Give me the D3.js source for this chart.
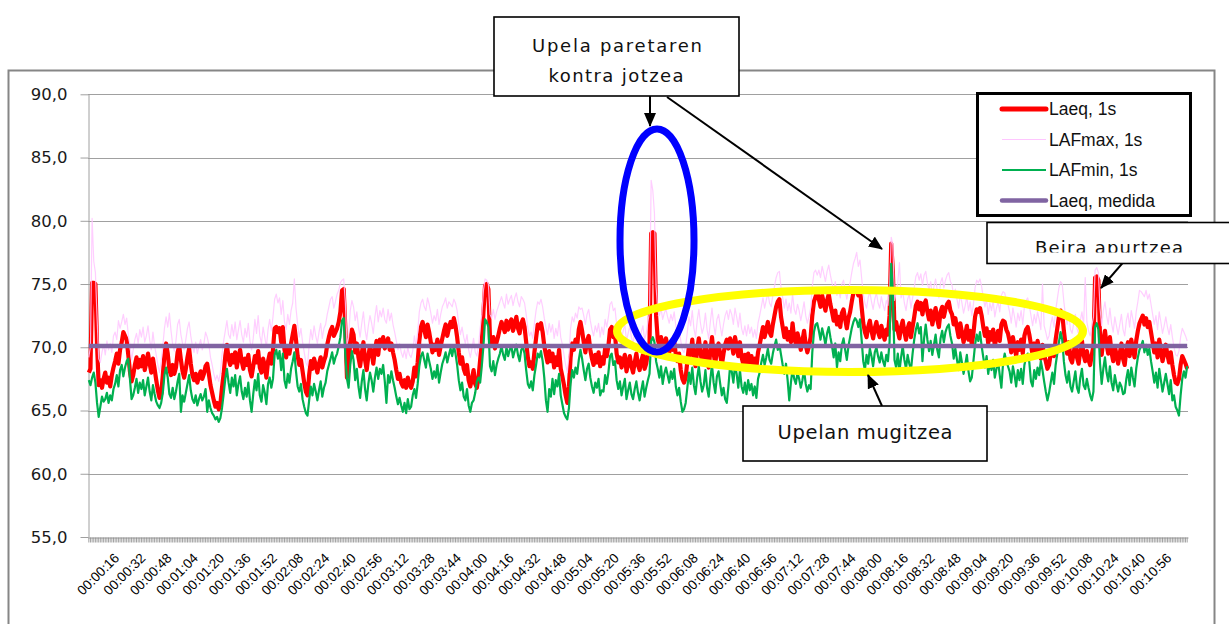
<!DOCTYPE html>
<html>
<head>
<meta charset="utf-8">
<script src="https://cdn.jsdelivr.net/npm/d3@7/dist/d3.min.js"></script>
<style>
  body { margin: 0; background: #fff; }
  svg { display: block; }
</style>
</head>
<body>
<div id="chart"></div>
<script>
// one value per second, starting at 00:00:00
const laeq = [
  68.0, 68.3, 75.1, 75.1, 75.0, 70.2, 67.0, 67.4, 66.8, 67.5, 68.0, 67.2, 67.6, 66.9, 67.8, 68.4,
  68.9, 69.5, 68.7, 69.8, 70.4, 71.2, 70.9, 70.6, 69.4, 68.1, 67.3, 67.8, 68.6, 69.2, 68.4, 69.0,
  68.5, 69.3, 68.2, 68.8, 69.5, 68.7, 68.0, 69.1, 68.3, 67.4, 66.6, 66.0, 66.3, 67.8, 69.4, 70.3,
  69.5, 68.2, 67.8, 68.6, 67.9, 68.4, 69.6, 70.1, 69.0, 68.1, 67.6, 68.3, 69.2, 69.9, 68.7, 67.8,
  67.4, 67.9, 67.2, 67.7, 68.1, 67.5, 67.9, 68.5, 68.7, 67.9, 67.0, 66.4, 65.8, 65.3, 65.6, 65.1,
  65.5, 66.8, 67.9, 69.3, 70.2, 69.1, 68.6, 69.4, 68.8, 69.6, 68.4, 69.2, 69.8, 68.9, 68.3, 69.1,
  68.6, 69.4, 68.2, 67.7, 68.5, 69.3, 68.8, 69.7, 68.4, 68.0, 69.1, 68.5, 67.6, 68.9, 69.5, 68.7,
  69.8, 71.5, 71.6, 71.2, 71.5, 70.4, 71.6, 69.8, 69.2, 70.1, 69.5, 70.3, 71.0, 71.7, 70.6, 69.3,
  68.6, 69.0, 68.1, 67.2, 66.5, 66.2, 67.8, 68.9, 68.3, 69.1, 68.6, 68.0, 68.7, 69.2, 68.4, 68.9,
  69.3, 70.2, 70.8, 71.3, 71.6, 70.9, 71.2, 71.5, 72.0, 72.8, 74.5, 74.6, 71.5, 67.6, 68.2, 70.6,
  71.4, 71.0, 69.6, 70.3, 69.2, 68.5, 69.5, 70.4, 69.0, 68.2, 69.3, 70.1, 69.6, 68.7, 69.8, 70.5,
  69.4, 70.6, 70.2, 70.8, 69.9, 70.4, 70.7, 69.8, 70.3, 69.6, 69.0, 68.2, 67.5, 67.9, 67.2, 66.9,
  67.4, 66.8, 67.6, 67.1, 66.8, 67.3, 68.4, 67.7, 68.8, 70.5, 71.6, 72.0, 71.4, 70.8, 71.8, 71.2,
  70.4, 69.6, 70.2, 69.8, 70.6, 69.4, 70.1, 70.7, 71.3, 71.8, 70.9, 71.5, 72.0, 71.6, 72.3, 71.7,
  70.8, 69.6, 68.7, 69.2, 68.3, 67.9, 68.6, 67.4, 66.9, 67.5, 68.2, 67.1, 66.8, 67.6, 69.0, 70.3,
  72.8, 74.9, 75.0, 74.6, 70.6, 70.2, 70.8, 69.9, 70.4, 70.9, 71.5, 72.0, 71.6, 71.2, 72.1, 71.4,
  71.9, 72.2, 71.3, 71.8, 72.4, 71.5, 71.1, 71.9, 72.2, 71.6, 70.4, 69.2, 68.5, 68.8, 68.3, 69.6,
  70.7, 71.8, 71.5, 71.9, 71.2, 70.1, 69.4, 68.8, 69.7, 68.9, 69.5, 68.4, 69.2, 68.6, 69.8, 68.3,
  67.7, 67.0, 66.2, 65.6, 66.9, 69.2, 70.3, 69.8, 70.6, 70.1, 71.4, 72.0, 71.3, 70.4, 69.6, 70.5,
  70.9, 69.8, 69.1, 68.6, 69.4, 68.8, 69.6, 68.5, 69.2, 68.7, 69.9, 69.3, 70.1, 71.4, 71.6, 70.8,
  71.0, 69.5, 68.8, 69.2, 68.4, 68.9, 69.4, 68.1, 68.7, 69.3, 68.5, 68.0, 68.8, 69.5, 68.6, 68.2,
  68.9, 69.4, 68.3, 68.7, 69.6, 70.2, 79.0, 79.1, 79.0, 72.5, 70.6, 70.2, 70.8, 69.9, 70.4, 70.7,
  70.1, 69.6, 70.3, 69.8, 70.5, 69.4, 68.9, 69.5, 68.2, 67.5, 67.2, 67.6, 68.9, 70.1, 69.4, 70.6,
  69.2, 68.5, 69.8, 70.7, 69.6, 68.8, 69.3, 70.4, 69.1, 68.4, 69.7, 70.8, 69.5, 68.7, 69.9, 70.3,
  69.4, 68.6, 69.5, 70.2, 70.6, 69.9, 70.7, 70.3, 69.5, 70.8, 70.1, 69.3, 70.4, 69.2, 68.7, 69.4,
  68.6, 69.5, 68.8, 69.3, 68.5, 69.1, 68.4, 69.6, 70.2, 70.9, 71.6, 70.8, 71.4, 72.0, 71.2, 70.9,
  71.8, 72.5, 73.2, 73.6, 73.8, 72.4, 71.6, 70.8, 71.5, 70.6, 71.2, 70.4, 71.9, 70.7, 70.3, 71.1,
  70.6, 69.8, 70.5, 71.3, 70.2, 69.6, 70.1, 70.8, 72.5, 73.6, 74.0, 74.4, 73.8, 73.2, 74.1, 73.5,
  72.9, 73.7, 74.2, 73.4, 72.8, 72.1, 72.9, 71.8, 72.4, 71.6, 72.7, 73.0, 72.2, 71.5, 72.3, 72.8,
  73.6, 74.3, 74.6, 74.5, 74.1, 74.6, 73.2, 71.9, 71.2, 70.8, 71.6, 72.1, 71.3, 70.7, 71.5, 72.0,
  71.2, 70.8, 71.7, 71.1, 70.6, 71.4, 71.0, 72.5, 78.2, 76.0, 71.4, 72.0, 71.3, 70.7, 71.6, 72.1,
  71.2, 70.6, 71.5, 71.9, 70.8, 71.6, 72.4, 73.3, 73.6, 73.0, 73.5, 72.6, 73.4, 73.7, 72.8, 72.2,
  72.9, 71.8, 72.5, 73.1, 72.2, 71.6, 72.8, 73.2, 72.4, 73.0, 73.4, 73.6, 72.9, 72.6, 71.8, 72.3,
  71.5, 70.8, 71.9, 71.2, 70.4, 71.0, 71.7, 70.6, 71.3, 70.2, 71.1, 72.4, 73.0, 72.8, 73.1, 72.5,
  71.6, 70.9, 71.5, 70.3, 71.2, 70.6, 71.4, 70.1, 70.8, 71.3, 70.5, 71.8, 72.1, 72.0, 71.4, 71.1,
  70.5, 69.6, 70.8, 70.1, 69.3, 70.4, 69.8, 70.6, 69.5, 70.9, 71.4, 71.6, 71.0, 70.2, 69.4, 70.3,
  69.6, 70.5, 69.9, 69.1, 70.2, 69.4, 68.9, 68.3, 68.6, 69.5, 70.1, 69.3, 70.6, 71.5, 72.4, 72.9,
  72.7, 71.3, 70.2, 69.5, 70.4, 69.1, 68.8, 69.6, 70.3, 69.2, 68.7, 69.8, 70.5, 69.4, 68.9, 69.7,
  69.0, 68.6, 69.4, 70.1, 75.5, 75.6, 75.3, 70.8, 69.4, 70.6, 71.3, 70.2, 69.5, 70.8, 69.6, 68.9,
  70.1, 69.4, 68.7, 69.5, 70.3, 69.1, 68.6, 69.8, 70.4, 69.3, 70.6, 69.9, 69.2, 70.5, 71.3, 71.9,
  72.2, 72.5, 71.8, 72.3, 71.6, 72.0, 71.2, 70.4, 69.6, 70.3, 69.2, 70.6, 69.8, 68.9, 69.5, 70.2,
  69.4, 68.8, 69.6, 68.6, 67.8, 67.2, 67.1, 67.5, 68.6, 69.3, 69.0, 68.7, 68.3
];

const lafMax = [
  69.2, 70.1, 80.2, 76.8, 75.9, 72.4, 69.1, 68.8, 69.6, 70.2, 69.4, 70.5, 69.8, 70.3, 69.6, 70.9,
  71.2, 70.6, 72.1, 71.5, 72.0, 72.6, 71.8, 72.3, 71.0, 70.2, 69.0, 69.8, 70.6, 71.1, 70.3, 71.4,
  70.8, 71.6, 70.4, 70.9, 71.7, 70.6, 69.8, 71.2, 70.1, 69.4, 68.6, 68.0, 68.9, 70.1, 71.5, 72.4,
  71.6, 72.7, 71.3, 70.2, 69.7, 70.5, 71.8, 72.2, 71.0, 70.3, 69.8, 70.6, 71.5, 72.0, 70.9, 70.1,
  69.6, 70.4, 69.5, 70.1, 70.6, 69.8, 70.3, 71.2, 70.8, 70.2, 69.2, 68.6, 67.9, 67.4, 67.8, 67.3,
  68.0, 69.4, 70.5, 71.3, 72.1, 71.0, 70.7, 71.8, 70.9, 72.0, 70.6, 71.4, 72.1, 71.0, 70.4, 71.5,
  70.8, 71.9, 70.5, 69.8, 70.7, 72.2, 71.1, 72.5, 70.9, 70.3, 71.6, 70.8, 70.0, 71.4, 72.2, 71.3,
  72.4, 73.8, 74.2, 73.5, 73.9, 72.6, 73.7, 72.0, 71.4, 72.6, 71.8, 72.9, 73.5, 75.4, 73.1, 71.8,
  70.8, 71.5, 70.4, 69.6, 68.8, 68.5, 70.2, 71.4, 70.6, 71.7, 70.9, 70.3, 71.2, 71.9, 70.7, 71.5,
  71.8, 72.6, 73.2, 73.8, 74.0, 73.1, 73.6, 74.2, 74.5, 75.1, 75.3, 75.4, 73.6, 70.2, 70.8, 72.9,
  73.7, 73.2, 72.1, 72.8, 71.6, 70.8, 71.9, 72.8, 71.4, 70.6, 71.7, 72.5, 71.9, 71.1, 72.4, 73.3,
  72.0, 72.9, 72.4, 73.1, 72.2, 71.9, 73.0, 72.1, 72.7, 71.8, 71.2, 70.5, 69.8, 70.3, 69.6, 69.2,
  69.8, 69.1, 70.0, 69.4, 69.2, 69.7, 70.9, 70.1, 71.2, 72.8, 73.5, 73.8, 73.2, 72.9, 73.9, 73.4,
  72.7, 71.9, 72.5, 72.1, 73.0, 71.8, 72.6, 73.2, 73.5, 73.9, 73.1, 73.6, 73.4, 73.2, 73.8, 73.5,
  72.9, 71.8, 71.0, 71.6, 70.8, 70.3, 71.0, 69.8, 69.2, 69.9, 70.7, 69.6, 69.3, 70.1, 71.5, 72.6,
  74.5, 75.4, 75.3, 75.0, 72.6, 72.3, 73.0, 72.2, 72.8, 73.2, 73.6, 74.0, 73.5, 73.1, 74.2, 73.4,
  73.8, 74.1, 73.3, 73.9, 74.3, 73.6, 73.2, 74.0, 73.8, 73.5, 72.6, 71.5, 70.9, 71.2, 70.7, 71.9,
  72.9, 73.6, 73.4, 73.8, 73.2, 72.3, 71.6, 71.0, 71.9, 71.2, 71.8, 70.7, 71.5, 70.9, 72.1, 70.8,
  70.2, 69.4, 68.6, 68.0, 69.3, 71.5, 72.4, 72.0, 72.7, 72.3, 73.2, 73.0, 73.1, 72.5, 71.8, 72.6,
  73.0, 72.1, 71.4, 70.9, 71.7, 71.2, 71.9, 70.8, 71.6, 71.0, 72.2, 71.6, 72.4, 73.4, 73.6, 72.9,
  73.1, 71.8, 71.1, 71.5, 70.7, 71.3, 71.8, 70.5, 71.1, 71.7, 70.8, 70.3, 71.2, 71.8, 70.9, 70.6,
  71.2, 71.7, 70.6, 71.1, 72.0, 72.8, 83.2, 82.4, 80.6, 74.8, 72.9, 72.5, 73.1, 72.2, 72.7, 73.0,
  72.4, 71.9, 72.6, 72.1, 72.8, 71.7, 71.2, 71.8, 70.5, 69.8, 69.6, 70.1, 71.2, 72.4, 71.7, 72.9,
  71.5, 70.8, 72.1, 73.0, 71.9, 71.1, 71.6, 72.7, 71.4, 70.7, 72.0, 73.1, 71.8, 71.0, 72.2, 72.6,
  71.7, 70.9, 71.8, 72.5, 72.9, 72.2, 73.0, 72.6, 71.8, 73.1, 72.4, 71.6, 72.7, 71.5, 71.0, 71.7,
  70.9, 71.8, 71.1, 71.6, 70.8, 71.4, 70.7, 71.9, 72.5, 73.2, 73.9, 73.1, 73.7, 74.3, 73.5, 73.2,
  74.1, 74.8, 75.5, 75.9, 76.0, 74.7, 73.9, 73.1, 73.8, 72.9, 73.5, 72.7, 74.2, 73.0, 72.6, 73.4,
  72.9, 72.1, 72.8, 73.6, 72.5, 71.9, 72.4, 73.1, 74.8, 75.9, 76.1, 75.7, 76.1, 75.5, 76.4, 75.8,
  75.2, 76.0, 76.5, 75.7, 75.1, 74.4, 75.2, 74.1, 74.7, 73.9, 75.0, 75.3, 74.5, 73.8, 74.6, 75.1,
  75.9, 76.6, 77.0, 77.5, 76.4, 76.9, 75.5, 74.2, 73.5, 73.1, 73.9, 74.4, 73.6, 73.0, 73.8, 74.3,
  73.5, 73.1, 74.0, 73.4, 72.9, 73.7, 73.3, 74.8, 78.7, 78.1, 73.7, 74.3, 75.1, 76.7, 73.9, 74.4,
  73.5, 72.9, 73.8, 74.2, 73.1, 73.9, 74.7, 75.6, 75.9, 75.3, 75.8, 74.9, 75.7, 76.0, 75.1, 74.5,
  75.2, 74.1, 74.8, 75.4, 74.5, 73.9, 75.1, 75.5, 74.7, 75.3, 75.7, 75.9, 75.2, 74.9, 74.1, 74.6,
  73.8, 73.1, 74.2, 73.5, 72.7, 73.3, 74.0, 72.9, 73.6, 72.5, 73.4, 74.7, 75.3, 75.1, 75.4, 74.8,
  73.9, 73.2, 73.8, 72.6, 73.5, 72.9, 73.7, 72.4, 73.1, 73.6, 72.8, 74.1, 74.4, 74.3, 73.7, 73.4,
  72.8, 71.9, 73.1, 72.4, 71.6, 72.7, 72.1, 72.9, 71.8, 73.2, 73.7, 73.9, 73.3, 72.5, 71.7, 72.6,
  71.9, 72.8, 72.2, 71.4, 75.0, 71.7, 71.2, 70.6, 70.9, 71.8, 72.4, 71.6, 72.9, 73.8, 74.7, 75.2,
  75.0, 73.6, 72.5, 71.8, 72.7, 71.4, 71.1, 71.9, 72.6, 71.5, 71.0, 72.1, 72.8, 71.7, 75.5, 72.0,
  71.3, 70.9, 71.7, 72.4, 76.1, 76.3, 75.9, 73.1, 71.7, 72.9, 73.6, 72.5, 71.8, 73.1, 71.9, 71.2,
  72.4, 71.7, 71.0, 71.8, 72.6, 71.4, 70.9, 72.1, 72.7, 71.6, 72.9, 72.2, 71.5, 72.8, 73.6, 74.5,
  74.4, 74.2, 74.0, 74.5, 73.8, 74.2, 73.4, 72.6, 71.8, 72.5, 71.4, 72.8, 72.0, 71.1, 71.7, 72.4,
  71.6, 71.0, 71.8, 70.8, 70.0, 69.4, 69.3, 69.7, 70.8, 71.5, 71.2, 70.9, 70.5
];

const lafMin = [
  67.4, 67.0, 67.6, 68.0, 67.2, 65.6, 64.5, 65.3, 66.1, 65.7, 65.9, 66.4, 65.6, 66.2, 65.8, 66.7,
  67.1, 67.8, 66.9, 68.2, 68.6, 67.7, 68.4, 68.9, 69.1, 67.5, 65.9, 66.2, 66.8, 67.5, 66.4, 67.2,
  66.7, 67.4, 66.2, 66.9, 67.6, 66.5, 65.8, 67.0, 66.3, 65.7, 65.4, 65.2, 65.6, 66.4, 67.8, 68.4,
  67.6, 66.3, 66.0, 66.8, 65.9, 66.5, 67.3, 67.9, 64.9, 66.2, 65.7, 66.4, 67.1, 67.8, 66.6, 65.9,
  65.6, 66.2, 65.4, 65.9, 66.3, 65.8, 66.1, 66.7, 64.9, 65.8, 65.2, 64.8, 64.6, 64.3, 64.5, 64.1,
  64.4, 65.2, 66.3, 67.5, 68.3, 67.2, 66.4, 67.6, 66.9, 67.8, 66.2, 67.1, 67.7, 66.5, 65.9, 66.8,
  66.1, 67.2, 65.8, 64.9, 66.3, 67.4, 66.6, 67.9, 66.2, 65.7, 67.0, 66.4, 65.5, 67.1, 67.6, 66.8,
  67.5, 69.4, 69.8, 69.1, 69.7, 68.2, 69.5, 67.4, 66.8, 67.9, 67.2, 68.3, 68.9, 69.6, 68.1, 66.9,
  66.5, 67.1, 65.9, 65.3, 64.8, 64.6, 65.8, 66.9, 66.2, 67.1, 66.5, 65.8, 66.6, 67.3, 66.1, 66.8,
  67.2, 68.1, 68.6, 69.1, 69.6, 68.7, 69.2, 69.5, 70.1, 70.8, 72.1, 72.3, 69.4, 67.5, 66.8, 68.6,
  69.7, 69.0, 67.4, 68.3, 66.9, 66.0, 67.3, 68.2, 66.7, 65.8, 67.1, 68.0, 67.4, 66.5, 67.6, 68.4,
  67.5, 68.3, 67.9, 68.6, 67.3, 65.6, 67.8, 67.2, 68.1, 67.4, 66.8, 66.1, 65.5, 66.0, 65.4, 64.9,
  65.6, 64.8, 65.9, 65.1, 65.3, 66.2, 66.7, 66.0, 67.1, 68.5, 69.3, 69.6, 69.0, 68.4, 69.5, 68.9,
  68.3, 67.5, 68.1, 67.6, 68.6, 67.2, 68.0, 68.7, 69.1, 69.6, 68.8, 69.4, 69.9, 69.3, 70.1, 69.5,
  68.6, 67.4, 66.6, 67.2, 66.1, 65.8, 66.7, 65.4, 64.9, 65.6, 65.8, 66.4, 67.3, 67.6, 67.2, 68.5,
  70.1, 72.2, 72.0, 71.6, 68.5, 68.1, 68.9, 67.8, 68.6, 69.1, 69.5, 70.1, 69.4, 69.0, 70.0, 69.3,
  69.8, 70.1, 69.2, 69.7, 70.2, 69.4, 68.9, 69.8, 70.0, 69.5, 68.2, 67.1, 66.8, 67.3, 66.6, 67.8,
  68.6, 69.5, 69.2, 69.7, 68.9, 67.6, 65.8, 64.9, 66.7, 66.1, 67.5, 66.3, 67.4, 66.9, 67.9, 66.2,
  65.5, 64.8, 64.5, 64.3, 65.2, 67.1, 68.2, 67.6, 68.4, 67.9, 69.0, 69.8, 69.1, 68.2, 67.4, 68.3,
  68.7, 67.6, 66.9, 66.4, 67.2, 66.8, 67.5, 66.2, 66.6, 66.5, 67.8, 67.1, 68.0, 69.3, 69.5, 68.6,
  68.9, 67.4, 66.7, 67.3, 66.2, 66.9, 67.5, 65.9, 66.6, 67.2, 66.3, 65.9, 66.7, 67.3, 66.4, 65.8,
  66.6, 67.3, 66.1, 66.8, 67.4, 67.9, 70.5, 70.8, 70.4, 68.9, 68.3, 67.6, 68.5, 67.1, 67.9, 68.4,
  67.8, 67.2, 68.1, 67.5, 68.3, 66.9, 66.2, 66.8, 65.7, 64.9, 65.1, 65.6, 66.8, 68.0, 67.1, 68.4,
  67.0, 66.3, 67.6, 68.5, 67.3, 66.5, 67.0, 68.2, 66.8, 66.1, 67.5, 68.6, 67.2, 66.4, 67.7, 68.1,
  67.1, 66.2, 66.8, 65.9, 65.6, 66.9, 68.5, 68.1, 67.2, 68.6, 67.9, 66.8, 68.2, 66.9, 66.4, 67.2,
  66.3, 67.4, 66.6, 67.1, 66.2, 66.9, 66.0, 67.5, 68.0, 68.8, 69.4, 68.6, 69.2, 69.9, 69.0, 68.7,
  69.5, 70.1, 70.6, 69.8, 70.2, 69.4, 68.6, 67.9, 68.7, 67.4, 65.8, 67.2, 68.3, 67.5, 67.1, 68.0,
  67.5, 66.8, 67.4, 68.2, 67.1, 66.5, 67.0, 66.7, 69.6, 71.2, 71.8, 71.9, 71.3, 70.6, 71.5, 70.9,
  70.2, 71.1, 71.6, 70.8, 70.1, 69.2, 70.3, 68.4, 69.6, 68.9, 70.2, 70.7, 69.8, 69.0, 70.1, 70.8,
  71.5, 72.0, 72.3, 72.1, 71.6, 72.2, 70.6, 68.9, 68.2, 69.4, 68.7, 69.9, 69.3, 68.5, 69.6, 70.0,
  69.3, 68.8, 69.6, 68.9, 68.5, 69.4, 68.9, 70.4, 76.6, 74.2, 69.0, 68.4, 69.5, 68.1, 69.2, 70.1,
  69.0, 68.3, 69.4, 68.7, 68.2, 69.5, 70.6, 71.4, 71.9, 71.1, 71.6, 68.9, 70.7, 71.8, 70.6, 69.7,
  70.5, 69.4, 70.2, 71.0, 69.8, 69.2, 70.7, 71.3, 70.4, 71.2, 71.6, 71.8, 70.9, 70.3, 69.1, 69.9,
  69.0, 68.2, 69.6, 68.8, 67.9, 68.6, 69.4, 68.1, 67.3, 67.6, 68.9, 70.2, 71.0, 70.5, 71.2, 70.1,
  69.2, 68.4, 69.3, 67.9, 68.8, 68.2, 69.0, 67.6, 68.3, 68.9, 67.8, 66.8, 68.7, 69.5, 68.9, 68.5,
  68.1, 67.2, 68.5, 67.8, 66.9, 68.2, 67.4, 68.3, 67.1, 68.6, 69.2, 69.5, 68.8, 67.3, 66.9, 68.2,
  67.5, 68.4, 67.8, 68.9, 68.2, 67.3, 66.5, 65.8, 66.4, 67.2, 68.0, 67.1, 68.6, 69.5, 70.4, 71.2,
  70.6, 68.9, 67.8, 67.2, 68.1, 66.9, 66.5, 67.3, 68.1, 66.8, 66.4, 67.6, 68.3, 67.0, 66.7, 67.5,
  66.8, 66.2, 65.8, 66.5, 71.6, 71.9, 71.4, 68.7, 67.1, 68.3, 69.2, 68.0, 67.3, 68.5, 67.2, 66.6,
  67.8, 67.1, 66.5, 67.2, 66.9, 66.3, 66.4, 67.5, 68.2, 67.0, 68.4, 67.6, 66.9, 68.3, 69.2, 69.8,
  70.1, 70.5, 69.6, 70.2, 69.4, 69.9, 68.9, 68.1, 67.2, 68.0, 66.8, 68.3, 67.4, 66.5, 67.2, 67.9,
  67.1, 66.3, 67.4, 65.8, 66.2, 65.3, 65.0, 64.6, 66.2, 67.5, 68.1, 67.6, 68.5
];

const laeqMedida = 70.1;
const yTicks = [55, 60, 65, 70, 75, 80, 85, 90];
const labelStep = 16;

const seriesNames = ["Laeq, 1s", "LAFmax, 1s", "LAFmin, 1s", "Laeq, medida"];
const seriesColors = ["#ff0000", "#ffc6ff", "#00b050", "#8064a2"];
const seriesWidths = [5, 1.2, 2.2, 4.5];

const W = 1229, H = 624;
const plot = { left: 88, right: 1188, top: 94.3, bottom: 537 };

const pad = (n) => String(n).padStart(2, "0");
const fmtTime = (s) => `${pad(Math.floor(s / 3600))}:${pad(Math.floor(s / 60) % 60)}:${pad(s % 60)}`;

const seconds = d3.range(laeq.length);

const svg = d3.select("#chart").append("svg")
  .attr("width", W).attr("height", H)
  .style("font-family", "'Liberation Sans', Arial, sans-serif");

svg.append("rect").attr("width", W).attr("height", H).attr("fill", "#fff");

// chart area border
svg.append("rect")
  .attr("x", 8.5).attr("y", 70.5)
  .attr("width", 1206).attr("height", 620)
  .attr("fill", "none").attr("stroke", "#868686").attr("stroke-width", 2);

const x = d3.scaleBand().domain(seconds).range([plot.left, plot.right]);
const cx = (s) => x(s) + x.bandwidth() / 2;
const y = d3.scaleLinear().domain([55, 90]).range([plot.bottom, plot.top]);

// gridlines
svg.append("g").selectAll("line")
  .data(yTicks.filter((t) => t > 55))
  .join("line")
  .attr("x1", plot.left).attr("x2", plot.right)
  .attr("y1", (d) => Math.round(y(d)) + 0.5).attr("y2", (d) => Math.round(y(d)) + 0.5)
  .attr("stroke", "#a0a0a0");

// y axis
const yAxis = d3.axisLeft(y).tickValues(yTicks)
  .tickSize(8).tickSizeOuter(0).tickPadding(13)
  .tickFormat((d) => d3.format(".1f")(d).replace(".", ","));

const gy = svg.append("g").attr("transform", `translate(${plot.left + 0.5},0)`).call(yAxis);
gy.selectAll("line, path").attr("stroke", "#a0a0a0");
gy.selectAll("text")
  .attr("fill", "#1a1a1a")
  .style("font-family", "'DejaVu Sans', Verdana, sans-serif")
  .style("font-size", "16.5px");

// x axis
const xAxis = d3.axisBottom(x).tickValues(seconds)
  .tickSize(5).tickSizeOuter(0)
  .tickFormat((s) => (s > 0 && s % labelStep === 0 ? fmtTime(s) : ""));

const gx = svg.append("g").attr("transform", `translate(0,${Math.round(plot.bottom) + 0.5})`).call(xAxis);
gx.select("path").attr("stroke", "#a0a0a0");
gx.selectAll("line").attr("stroke", "#8a8a8a").attr("stroke-width", 0.8);
gx.selectAll("text")
  .attr("x", -11.7).attr("y", 18.5).attr("dy", 0)
  .attr("transform", "rotate(-45)")
  .style("text-anchor", "end")
  .attr("fill", "#000")
  .style("font-size", "13.5px");

// series
const line = (vals) => d3.line().x((d, i) => cx(seconds[i])).y((d) => y(d))(vals);

svg.append("path").attr("d", line(laeq))
  .attr("fill", "none").attr("stroke", seriesColors[0]).attr("stroke-width", 4.2)
  .attr("stroke-linejoin", "round");
svg.append("path").attr("d", line(lafMax))
  .attr("fill", "none").attr("stroke", seriesColors[1]).attr("stroke-width", seriesWidths[1])
  .attr("stroke-opacity", 0.85).attr("stroke-linejoin", "round");
svg.append("path").attr("d", line(lafMin))
  .attr("fill", "none").attr("stroke", seriesColors[2]).attr("stroke-width", seriesWidths[2])
  .attr("stroke-linejoin", "round");
svg.append("path").attr("d", line(seconds.map(() => laeqMedida)))
  .attr("fill", "none").attr("stroke", seriesColors[3]).attr("stroke-width", seriesWidths[3]);

// highlight ellipses
svg.append("ellipse")
  .attr("cx", 850).attr("cy", 331).attr("rx", 233).attr("ry", 41)
  .attr("fill", "none").attr("stroke", "#ffff00").attr("stroke-width", 8);
svg.append("ellipse")
  .attr("cx", 657).attr("cy", 240.5).attr("rx", 37).attr("ry", 111.5)
  .attr("fill", "none").attr("stroke", "#0000ff").attr("stroke-width", 7);

// arrows
const defs = svg.append("defs");
defs.append("marker")
  .attr("id", "head").attr("markerUnits", "userSpaceOnUse")
  .attr("viewBox", "0 0 14 12").attr("refX", 13).attr("refY", 6)
  .attr("markerWidth", 14).attr("markerHeight", 12).attr("orient", "auto")
  .append("path").attr("d", "M0,0 L14,6 L0,12 Z").attr("fill", "#000");

const arrows = [
  [650, 96, 650, 126],
  [667, 97, 882, 249],
  [1133, 251, 1101, 288],
  [882, 406, 868, 375]
];
svg.append("g").selectAll("line").data(arrows).join("line")
  .attr("x1", (d) => d[0]).attr("y1", (d) => d[1])
  .attr("x2", (d) => d[2]).attr("y2", (d) => d[3])
  .attr("stroke", "#000").attr("stroke-width", 2)
  .attr("marker-end", "url(#head)");

// callout boxes
const boxFont = "'DejaVu Sans', Verdana, sans-serif";
function callout(bx, by, bw, bh, lines) {
  const g = svg.append("g");
  g.append("rect").attr("x", bx).attr("y", by).attr("width", bw).attr("height", bh)
    .attr("fill", "#fff").attr("stroke", "#000").attr("stroke-width", 1.6);
  lines.forEach((l) => {
    g.append("text").attr("x", l.x).attr("y", l.y)
      .attr("text-anchor", "middle")
      .attr("textLength", l.w).attr("lengthAdjust", "spacing")
      .style("font-family", boxFont).style("font-size", l.size + "px")
      .attr("fill", "#111").attr("clip-path", l.clip || null)
      .text(l.text);
  });
  return g;
}

callout(494, 17, 245, 79, [
  { text: "Upela paretaren", x: 617, y: 51.7, w: 170, size: 18 },
  { text: "kontra jotzea", x: 616, y: 81.7, w: 135, size: 18 }
]);

defs.append("clipPath").attr("id", "cutText")
  .append("rect").attr("x", 980).attr("y", 222).attr("width", 260).attr("height", 30.5);

callout(987, 222.5, 250, 41, [
  { text: "Beira apurtzea", x: 1109, y: 253.5, w: 148, size: 18, clip: "url(#cutText)" }
]);

callout(743, 406, 244, 55, [
  { text: "Upelan mugitzea", x: 865, y: 438.5, w: 175, size: 19.5 }
]);

// legend
const legend = svg.append("g");
legend.append("rect")
  .attr("x", 977.5).attr("y", 93.5).attr("width", 213).attr("height", 122)
  .attr("fill", "#fff").attr("stroke", "#000").attr("stroke-width", 3);
const rowY = [109, 139.5, 170, 200.5];
seriesNames.forEach((name, i) => {
  legend.append("line")
    .attr("x1", 1002).attr("x2", 1046).attr("y1", rowY[i]).attr("y2", rowY[i])
    .attr("stroke", seriesColors[i]).attr("stroke-width", seriesWidths[i])
    .attr("stroke-linecap", i === 1 || i === 2 ? "butt" : "round");
  legend.append("text")
    .attr("x", 1049).attr("y", rowY[i]).attr("dy", "0.36em")
    .style("font-size", "17.5px").attr("fill", "#111")
    .text(name);
});
</script>
</body>
</html>
